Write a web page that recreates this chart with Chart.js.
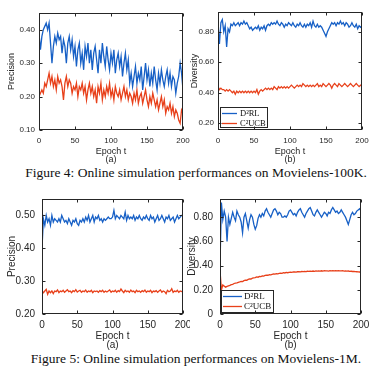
<!DOCTYPE html>
<html>
<head>
<meta charset="utf-8">
<script src="https://cdn.jsdelivr.net/npm/chart.js@4"></script>
<style>
  html, body { margin: 0; padding: 0; background: #fff; }
  body { width: 383px; height: 373px; position: relative; overflow: hidden; }
  canvas { position: absolute; }
  .caption {
    position: absolute; left: 0; width: 392px; text-align: center;
    font-family: 'Liberation Serif', 'DejaVu Serif', serif; font-size: 13.5px;
    line-height: 16px; color: #111; white-space: nowrap;
  }
</style>
</head>
<body>
<canvas id="c1" width="190" height="165" style="left:0;top:0"></canvas>
<canvas id="c2" width="195" height="165" style="left:188px;top:0"></canvas>
<canvas id="c3" width="190" height="165" style="left:0;top:185px"></canvas>
<canvas id="c4" width="197" height="165" style="left:186px;top:185px"></canvas>
<div class="caption" style="top:164.5px">Figure 4: Online simulation performances on Movielens-100K.</div>
<div class="caption" style="top:351px">Figure 5: Online simulation performances on Movielens-1M.</div>

<script>
// x positions: every 2nd epoch, 0..200
const epochs = Array.from({ length: 101 }, (_, i) => i * 2);
const xTicks = [0, 50, 100, 150, 200];

// Fig 4 (a) precision, Movielens-100K
const prec100kD2rl = [
  0.39, 0.34, 0.38, 0.40, 0.41, 0.42, 0.40, 0.42, 0.36, 0.30,
  0.35, 0.38, 0.36, 0.39, 0.37, 0.38, 0.33, 0.37, 0.35, 0.30,
  0.36, 0.38, 0.34, 0.37, 0.32, 0.35, 0.29, 0.34, 0.36, 0.30,
  0.33, 0.28, 0.35, 0.32, 0.36, 0.30, 0.34, 0.28, 0.33, 0.35,
  0.31, 0.27, 0.34, 0.30, 0.36, 0.32, 0.29, 0.35, 0.31, 0.28,
  0.33, 0.30, 0.34, 0.27, 0.31, 0.33, 0.29, 0.32, 0.26, 0.30,
  0.33, 0.28, 0.31, 0.24, 0.27, 0.23, 0.26, 0.29, 0.24, 0.27,
  0.25, 0.29, 0.22, 0.26, 0.30, 0.25, 0.28, 0.23, 0.27, 0.24,
  0.29, 0.25, 0.22, 0.27, 0.24, 0.28, 0.25, 0.23, 0.26, 0.28,
  0.24, 0.27, 0.23, 0.26, 0.25, 0.21, 0.24, 0.26, 0.30, 0.27,
  0.22
];
const prec100kC2ucb = [
  0.20, 0.21, 0.22, 0.21, 0.24, 0.23, 0.25, 0.27, 0.24, 0.26,
  0.23, 0.25, 0.22, 0.26, 0.24, 0.25, 0.23, 0.19, 0.24, 0.26,
  0.23, 0.25, 0.24, 0.21, 0.23, 0.22, 0.24, 0.20, 0.23, 0.22,
  0.24, 0.21, 0.23, 0.19, 0.22, 0.24, 0.21, 0.23, 0.20, 0.22,
  0.18, 0.23, 0.21, 0.24, 0.19, 0.22, 0.20, 0.23, 0.21, 0.24,
  0.20, 0.22, 0.19, 0.23, 0.21, 0.20, 0.22, 0.19, 0.21, 0.23,
  0.20, 0.22, 0.19, 0.21, 0.20, 0.18, 0.21, 0.19, 0.22, 0.18,
  0.20, 0.21, 0.18, 0.20, 0.22, 0.19, 0.17, 0.20, 0.18, 0.21,
  0.19, 0.17, 0.19, 0.16, 0.18, 0.20, 0.17, 0.19, 0.15, 0.17,
  0.16, 0.18, 0.15, 0.17, 0.14, 0.16, 0.15, 0.13, 0.12, 0.16,
  0.15
];

// Fig 4 (b) diversity, Movielens-100K
const div100kD2rl = [
  0.85, 0.72, 0.86, 0.88, 0.80, 0.84, 0.70, 0.82, 0.80, 0.85,
  0.84, 0.86, 0.84, 0.85, 0.86, 0.84, 0.86, 0.85, 0.87, 0.85,
  0.86, 0.84, 0.82, 0.83, 0.81, 0.82, 0.83, 0.82, 0.84, 0.81,
  0.83, 0.82, 0.84, 0.81, 0.84, 0.85, 0.84, 0.86, 0.85, 0.86,
  0.85, 0.87, 0.85, 0.84, 0.86, 0.85, 0.83, 0.85, 0.84, 0.86,
  0.85, 0.84, 0.86, 0.84, 0.83, 0.85, 0.84, 0.86, 0.84, 0.83,
  0.85, 0.83, 0.85, 0.84, 0.86, 0.83, 0.87, 0.84, 0.83, 0.85,
  0.83, 0.84, 0.83, 0.81, 0.79, 0.77, 0.80, 0.82, 0.84, 0.86,
  0.85, 0.86, 0.84, 0.86, 0.85, 0.87, 0.85, 0.86, 0.84, 0.86,
  0.85, 0.83, 0.84, 0.86, 0.84, 0.83, 0.85, 0.82, 0.84, 0.83,
  0.84
];
const div100kC2ucb = [
  0.44, 0.42, 0.43, 0.42, 0.42, 0.41, 0.42, 0.41, 0.42, 0.41,
  0.40, 0.41, 0.39, 0.41, 0.40, 0.41, 0.40, 0.41, 0.40, 0.41,
  0.40, 0.41, 0.40, 0.41, 0.40, 0.41, 0.40, 0.42, 0.39, 0.41,
  0.42, 0.41, 0.42, 0.43, 0.42, 0.43, 0.42, 0.43, 0.42, 0.44,
  0.43, 0.42, 0.44, 0.43, 0.44, 0.43, 0.44, 0.43, 0.44, 0.43,
  0.44, 0.45, 0.44, 0.43, 0.44, 0.45, 0.44, 0.45, 0.44, 0.46,
  0.45, 0.44, 0.45, 0.44, 0.45, 0.44, 0.45, 0.44, 0.45, 0.46,
  0.44, 0.45, 0.44, 0.46, 0.45, 0.44, 0.45, 0.46, 0.45, 0.43,
  0.45, 0.46, 0.45, 0.44, 0.46, 0.45, 0.44, 0.45, 0.46, 0.45,
  0.44, 0.45, 0.46, 0.45, 0.44, 0.45, 0.46, 0.45, 0.44, 0.45,
  0.44
];

// Fig 5 (a) precision, Movielens-1M
const prec1mD2rl = [
  0.40, 0.49, 0.47, 0.50, 0.48, 0.49, 0.47, 0.50, 0.48, 0.49,
  0.485, 0.48, 0.49, 0.48, 0.50, 0.49, 0.48, 0.485, 0.475, 0.49,
  0.48, 0.47, 0.485, 0.48, 0.49, 0.475, 0.47, 0.485, 0.48, 0.49,
  0.48, 0.495, 0.485, 0.50, 0.48, 0.49, 0.50, 0.48, 0.495, 0.49,
  0.50, 0.485, 0.49, 0.48, 0.49, 0.485, 0.49, 0.495, 0.49, 0.49,
  0.495, 0.515, 0.49, 0.50, 0.495, 0.49, 0.50, 0.495, 0.49, 0.51,
  0.485, 0.50, 0.49, 0.495, 0.49, 0.50, 0.485, 0.495, 0.49, 0.50,
  0.49, 0.485, 0.495, 0.49, 0.50, 0.49, 0.485, 0.50, 0.49, 0.495,
  0.48, 0.49, 0.50, 0.485, 0.49, 0.50, 0.49, 0.48, 0.495, 0.49,
  0.50, 0.485, 0.49, 0.495, 0.48, 0.49, 0.50, 0.49, 0.495, 0.50,
  0.50
];
const prec1mC2ucb = [
  0.270, 0.265, 0.270, 0.275, 0.260, 0.270, 0.265, 0.270, 0.262, 0.270,
  0.268, 0.273, 0.265, 0.270, 0.268, 0.272, 0.266, 0.270, 0.274, 0.268,
  0.270, 0.265, 0.271, 0.268, 0.274, 0.267, 0.270, 0.272, 0.266, 0.270,
  0.268, 0.273, 0.266, 0.270, 0.268, 0.272, 0.265, 0.270, 0.268, 0.270,
  0.266, 0.271, 0.268, 0.272, 0.266, 0.270, 0.267, 0.270, 0.273, 0.266,
  0.270, 0.268, 0.272, 0.266, 0.271, 0.268, 0.276, 0.270, 0.265, 0.272,
  0.268, 0.270, 0.266, 0.273, 0.268, 0.270, 0.265, 0.272, 0.268, 0.270,
  0.266, 0.271, 0.268, 0.273, 0.266, 0.270, 0.268, 0.272, 0.265, 0.270,
  0.268, 0.271, 0.266, 0.270, 0.273, 0.266, 0.270, 0.268, 0.262, 0.272,
  0.268, 0.270, 0.277, 0.266, 0.270, 0.268, 0.272, 0.266, 0.270, 0.268,
  0.270
];

// Fig 5 (b) diversity, Movielens-1M
const div1mD2rl = [
  0.40, 0.92, 0.78, 0.85, 0.80, 0.60, 0.80, 0.74, 0.79, 0.84,
  0.80, 0.77, 0.85, 0.82, 0.80, 0.76, 0.67, 0.80, 0.83, 0.77,
  0.71, 0.78, 0.82, 0.80, 0.74, 0.70, 0.73, 0.79, 0.82, 0.80,
  0.83, 0.81, 0.85, 0.87, 0.84, 0.82, 0.80, 0.83, 0.86, 0.87,
  0.85, 0.82, 0.84, 0.83, 0.80, 0.80, 0.81, 0.80, 0.82, 0.85,
  0.86, 0.84, 0.82, 0.83, 0.81, 0.84, 0.86, 0.87, 0.84, 0.82,
  0.80, 0.83, 0.85, 0.87, 0.88, 0.85, 0.82, 0.81, 0.84, 0.86,
  0.84, 0.82, 0.80, 0.82, 0.84, 0.83, 0.81, 0.84, 0.83, 0.86,
  0.88, 0.86, 0.84, 0.85, 0.83, 0.84, 0.86, 0.84, 0.82, 0.80,
  0.77, 0.74, 0.78, 0.82, 0.84, 0.82, 0.83, 0.85, 0.86, 0.87,
  0.85
];
const div1mC2ucb = [
  0.36, 0.20, 0.24, 0.23, 0.222, 0.228, 0.232, 0.236, 0.242, 0.245,
  0.252, 0.255, 0.258, 0.262, 0.265, 0.270, 0.268, 0.276, 0.280, 0.279,
  0.286, 0.290, 0.289, 0.296, 0.299, 0.300, 0.306, 0.304, 0.310, 0.309,
  0.315, 0.313, 0.319, 0.321, 0.320, 0.325, 0.324, 0.328, 0.331, 0.329,
  0.334, 0.332, 0.336, 0.338, 0.336, 0.341, 0.339, 0.343, 0.341, 0.344,
  0.346, 0.344, 0.347, 0.348, 0.346, 0.349, 0.350, 0.348, 0.351, 0.350,
  0.352, 0.350, 0.353, 0.352, 0.354, 0.352, 0.355, 0.353, 0.356, 0.354,
  0.356, 0.355, 0.357, 0.355, 0.358, 0.356, 0.357, 0.355, 0.358, 0.357,
  0.359, 0.357, 0.358, 0.356, 0.358, 0.357, 0.356, 0.358, 0.355, 0.356,
  0.354, 0.355, 0.352, 0.353, 0.351, 0.352, 0.350, 0.349, 0.348, 0.347,
  0.345
];

const BLUE = '#1760c6';
const RED = '#e8401a';
const AXIS = '#262626';

Chart.defaults.font.family = "'Liberation Sans', Arial, sans-serif";
Chart.defaults.color = AXIS;

const toPoints = vals => vals.map((v, i) => ({ x: epochs[i], y: v }));

// MATLAB-style box with inward ticks on all four sides
const boxAxes = {
  id: 'boxAxes',
  afterDraw(chart) {
    const { ctx, chartArea: a, scales: { x, y } } = chart;
    const L = Math.round(a.left) + 0.5, R = Math.round(a.right) - 0.5;
    const T = Math.round(a.top) + 0.5, B = Math.round(a.bottom) - 0.5;
    const len = 3;
    ctx.save();
    ctx.strokeStyle = AXIS;
    ctx.lineWidth = 1;
    ctx.strokeRect(L, T, R - L, B - T);
    ctx.beginPath();
    x.ticks.forEach(t => {
      const px = Math.round(x.getPixelForValue(t.value)) + 0.5;
      ctx.moveTo(px, B); ctx.lineTo(px, B - len);
      ctx.moveTo(px, T); ctx.lineTo(px, T + len);
    });
    y.ticks.forEach(t => {
      const py = Math.round(y.getPixelForValue(t.value)) + 0.5;
      ctx.moveTo(L, py); ctx.lineTo(L + len, py);
      ctx.moveTo(R, py); ctx.lineTo(R - len, py);
    });
    ctx.stroke();
    ctx.restore();
  }
};

// boxed legend in the lower-left corner of the plot
const boxLegend = {
  id: 'boxLegend',
  afterDatasetsDraw(chart, args, o) {
    if (!o.show) return;
    const { ctx, chartArea: a } = chart;
    const x = Math.round(a.left + o.dx), y = Math.round(a.bottom - o.dy - o.h);
    ctx.save();
    ctx.fillStyle = '#fff';
    ctx.fillRect(x, y, o.w, o.h);
    ctx.strokeStyle = AXIS;
    ctx.lineWidth = 1;
    ctx.strokeRect(x + 0.5, y + 0.5, o.w, o.h);
    ctx.font = o.size + "px 'Liberation Serif', 'Times New Roman', serif";
    ctx.textBaseline = 'middle';
    chart.data.datasets.forEach((ds, i) => {
      const yy = y + o.rowTop + i * o.rowGap;
      ctx.strokeStyle = ds.borderColor;
      ctx.lineWidth = 1.3;
      ctx.beginPath();
      ctx.moveTo(x + o.lineX0, yy + 0.5);
      ctx.lineTo(x + o.lineX1, yy + 0.5);
      ctx.stroke();
      ctx.fillStyle = '#111';
      ctx.fillText(ds.label, x + o.textX, yy + 0.5);
    });
    ctx.restore();
  }
};

function panel(id, p) {
  return new Chart(document.getElementById(id), {
    type: 'line',
    data: {
      datasets: [
        { label: 'D\u00B2RL', data: toPoints(p.blue), borderColor: BLUE },
        { label: 'C\u00B2UCB', data: toPoints(p.red), borderColor: RED }
      ]
    },
    options: {
      responsive: false,
      animation: false,
      events: [],
      elements: {
        line: { borderWidth: 1.3, tension: 0 },
        point: { radius: 0 }
      },
      layout: { padding: { left: 0, right: p.padR, top: p.padT, bottom: 0 } },
      plugins: {
        legend: { display: false },
        tooltip: { enabled: false },
        boxLegend: p.legend || { show: false }
      },
      scales: {
        x: {
          type: 'linear', min: 0, max: 200,
          afterBuildTicks: s => { s.ticks = xTicks.map(v => ({ value: v })); },
          afterFit: s => { s.height = p.xH; s.paddingLeft = 0; s.paddingRight = 0; },
          grid: { display: false, drawTicks: false },
          border: { display: false },
          ticks: { font: { size: p.tick }, padding: p.xPad, maxRotation: 0, autoSkip: false, callback: v => String(v) },
          title: {
            display: true, text: ['Epoch t', p.tag],
            font: { size: p.label, lineHeight: p.titleLH },
            padding: { top: 0, bottom: p.titlePad }
          }
        },
        y: {
          min: p.yMin, max: p.yMax,
          afterBuildTicks: s => { s.ticks = p.yTicks.map(v => ({ value: v })); },
          afterFit: s => { s.width = p.yW; s.paddingTop = 0; s.paddingBottom = 0; },
          grid: { display: false, drawTicks: false },
          border: { display: false },
          ticks: { font: { size: p.tick }, padding: p.yPad, callback: v => (v === 0 ? '0' : v.toFixed(2)) },
          title: {
            display: true, text: p.yTitle,
            font: { size: p.label },
            padding: { top: p.yTitlePad, bottom: 0 }
          }
        }
      }
    },
    plugins: [boxLegend, boxAxes]
  });
}

window.addEventListener('load', () => {
  const top = { tick: 8, label: 9, titleLH: '8px', xPad: 6, yPad: 4, titlePad: 1.5, xH: 35 };
  const bottom = { tick: 10, label: 10, titleLH: '9px', xPad: 5, yPad: 7, titlePad: 0, xH: 36 };

  panel('c1', {
    ...top, blue: prec100kD2rl, red: prec100kC2ucb, tag: '(a)', yTitle: 'Precision',
    yMin: 0.10, yMax: 0.45, yTicks: [0.10, 0.20, 0.30, 0.40],
    yW: 39, padR: 7, padT: 13, yTitlePad: 6.5
  });
  panel('c2', {
    ...top, blue: div100kD2rl, red: div100kC2ucb, tag: '(b)', yTitle: 'Diversity',
    yMin: 0.155, yMax: 0.93, yTicks: [0.20, 0.40, 0.60, 0.80],
    yW: 30, padR: 21, padT: 12, yTitlePad: 1.5,
    legend: { show: true, dx: 2, dy: 3, w: 47, h: 20, rowTop: 6, rowGap: 10, lineX0: 2, lineX1: 17, textX: 20, size: 8.5 }
  });
  panel('c3', {
    ...bottom, blue: prec1mD2rl, red: prec1mC2ucb, tag: '(a)', yTitle: 'Precision',
    yMin: 0.20, yMax: 0.55, yTicks: [0.20, 0.30, 0.40, 0.50],
    yW: 42, padR: 7, padT: 14, yTitlePad: 6.5
  });
  panel('c4', {
    ...bottom, blue: div1mD2rl, red: div1mC2ucb, tag: '(b)', yTitle: 'Diversity',
    yMin: 0, yMax: 0.95, yTicks: [0, 0.20, 0.40, 0.60, 0.80],
    yW: 34, padR: 22, padT: 14, yTitlePad: 0,
    legend: { show: true, dx: 1, dy: 2, w: 52, h: 22, rowTop: 6, rowGap: 10, lineX0: 2, lineX1: 21, textX: 23, size: 9 }
  });
});
</script>
</body>
</html>
